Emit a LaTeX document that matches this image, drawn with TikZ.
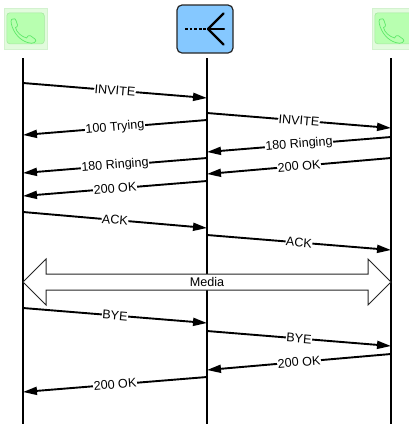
\documentclass[tikz,border=0pt]{standalone}
\usepackage{fontspec}
\setmainfont{Liberation Sans}
\usetikzlibrary{arrows.meta}
\definecolor{outerg}{HTML}{E2FBDD}
\definecolor{outerd}{HTML}{D3F2CF}
\definecolor{innerg}{HTML}{B8FFB0}
\definecolor{innerd}{HTML}{A6E8A0}
\definecolor{handg}{HTML}{5FE86A}
\definecolor{srv}{HTML}{85C8FF}
\tikzset{
 life/.style={line width=2pt,black},
 msg/.style={line width=1.9pt,black,-{Triangle[length=14pt,width=8pt]}},
 lab/.style={fill=white,inner sep=0.5pt,font=\fontsize{12.6}{13}\selectfont,sloped,pos=0.5},
 phoneouter/.style={fill=outerg,draw=outerd,line width=0.8pt,minimum width=43pt,minimum height=41pt,inner sep=0pt,anchor=north west},
 phoneinner/.style={fill=innerg,draw=innerd,line width=0.6pt,rounded corners=3pt,minimum width=37.5pt,minimum height=31pt,inner sep=0pt,anchor=north west},
 handset/.style={draw=handg,line width=0.7pt,line join=round},
 srvbox/.style={fill=srv,draw=black!85,line width=1.2pt,rounded corners=5pt,minimum width=56pt,minimum height=48pt,inner sep=0pt},
 srvline/.style={line width=2.3pt,black,line cap=round},
 media/.style={draw=black!85,fill=white,line width=1pt,line join=miter},
}
\newcommand{\phoneat}[1]{\begin{scope}[shift={(#1,19.5)}]
 \draw[handset] (0,0) -- (1.5,-0.5) .. controls (3,-1) and (4,-1) .. (4.5,1) -- (6,5.5) .. controls (6.5,7) and (5,7.5) .. (4,8) .. controls (5,13) and (10,17) .. (15,18.5) .. controls (16,16.5) and (17,15.5) .. (19,16.3) -- (23.5,19.5) .. controls (25,20.5) and (24.5,22) .. (23,23) .. controls (21,24) and (19,24) .. (16,23) .. controls (8,20.5) and (2,13) .. (0,5) .. controls (-0.5,3) and (-0.7,1) .. (0,0) -- cycle;
\end{scope}}
\begin{document}
\begin{tikzpicture}[x=1pt,y=-1pt]
\useasboundingbox (0,0) rectangle (409,424);
\begin{scope}
\clip (0,0) rectangle (409,424);
% phones
\node[phoneouter] (phoneA) at (3.5,7.5) {};
\node[phoneinner] (phoneAin) at (6.5,12.5) {};
\node[phoneouter] (phoneB) at (371.5,7.5) {};
\node[phoneinner] (phoneBin) at (374.5,12.5) {};
\phoneat{11.5}
\phoneat{379.5}
% server
\node[srvbox] (server) at (205,29) {};
\coordinate (hub) at (208,29);
\draw[srvline,line cap=butt,dash pattern=on 2.8pt off 1.8pt] (185,29) -- (hub);
\draw[srvline] (hub) -- (223.5,13.5);
\draw[srvline] (hub) -- (224,29);
\draw[srvline] (hub) -- (223.5,44.5);
% lifelines
\coordinate (At) at (23,58); \coordinate (Ab) at (23,424);
\coordinate (Bt) at (207,58); \coordinate (Bb) at (207,424);
\coordinate (Ct) at (391,58); \coordinate (Cb) at (391,424);
\draw[life] (At) -- (Ab);
\draw[life] (Bt) -- (Bb);
\draw[life] (Ct) -- (Cb);
% media
\draw[media] (23,282) -- (46,259) -- (46,274) -- (368,274) -- (368,259) -- (391,282) -- (368,305) -- (368,290) -- (46,290) -- (46,305) -- cycle;
\node[font=\fontsize{12.6}{13}\selectfont,inner sep=0pt] (mediaL) at (207,282) {Media};
% messages
\coordinate (m1a) at (23,83);  \coordinate (m1b) at (207,98);
\coordinate (m2a) at (207,113); \coordinate (m2b) at (391,128);
\coordinate (m3a) at (207,120); \coordinate (m3b) at (23,135);
\coordinate (m4a) at (391,137); \coordinate (m4b) at (207,152);
\coordinate (m5a) at (207,158); \coordinate (m5b) at (23,173);
\coordinate (m6a) at (391,158); \coordinate (m6b) at (207,174);
\coordinate (m7a) at (207,181); \coordinate (m7b) at (23,196);
\coordinate (m8a) at (23,212); \coordinate (m8b) at (207,228);
\coordinate (m9a) at (207,235); \coordinate (m9b) at (391,250);
\coordinate (m10a) at (23,308); \coordinate (m10b) at (207,323);
\coordinate (m11a) at (207,331); \coordinate (m11b) at (391,346);
\coordinate (m12a) at (391,354); \coordinate (m12b) at (207,370);
\coordinate (m13a) at (207,377); \coordinate (m13b) at (23,392);
\draw[msg] (m1a) -- node[lab] (l1) {INVITE} (m1b);
\draw[msg] (m2a) -- node[lab] (l2) {INVITE} (m2b);
\draw[msg] (m3a) -- node[lab] (l3) {100 Trying} (m3b);
\draw[msg] (m4a) -- node[lab] (l4) {180 Ringing} (m4b);
\draw[msg] (m5a) -- node[lab] (l5) {180 Ringing} (m5b);
\draw[msg] (m6a) -- node[lab] (l6) {200 OK} (m6b);
\draw[msg] (m7a) -- node[lab] (l7) {200 OK} (m7b);
\draw[msg] (m8a) -- node[lab] (l8) {ACK} (m8b);
\draw[msg] (m9a) -- node[lab] (l9) {ACK} (m9b);
\draw[msg] (m10a) -- node[lab] (l10) {BYE} (m10b);
\draw[msg] (m11a) -- node[lab] (l11) {BYE} (m11b);
\draw[msg] (m12a) -- node[lab] (l12) {200 OK} (m12b);
\draw[msg] (m13a) -- node[lab] (l13) {200 OK} (m13b);
\end{scope}
\end{tikzpicture}
\end{document}
